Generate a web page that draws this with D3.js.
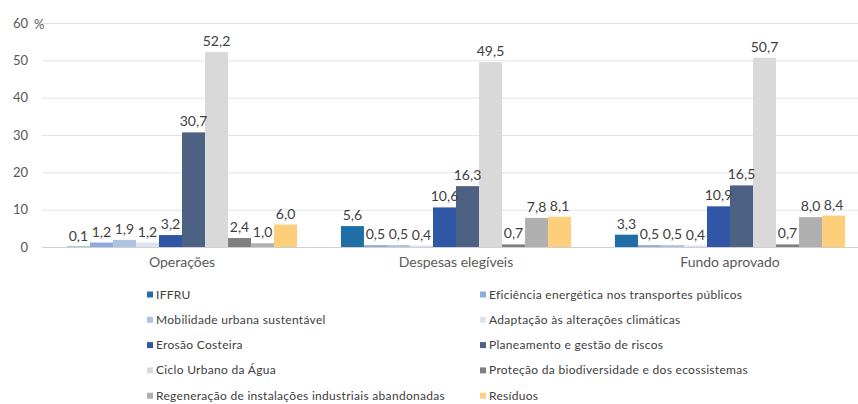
<!DOCTYPE html>
<html><head><meta charset="utf-8">
<script src="https://cdn.jsdelivr.net/npm/d3@7"></script>
<style>
body{margin:0;background:#fff;}
svg{display:block;font-family:"Lato","Liberation Sans",sans-serif;}
</style></head>
<body><svg id="c" width="858" height="404"></svg>
<script>
const categories = ["Operações", "Despesas elegíveis", "Fundo aprovado"];
const seriesNames = [
  "IFFRU",
  "Eficiência energética nos transportes públicos",
  "Mobilidade urbana sustentável",
  "Adaptação às alterações climáticas",
  "Erosão Costeira",
  "Planeamento e gestão de riscos",
  "Ciclo Urbano da Água",
  "Proteção da biodiversidade e dos ecossistemas",
  "Regeneração de instalações industriais abandonadas",
  "Resíduos"
];
const operacoes = [0.1, 1.2, 1.9, 1.2, 3.2, 30.7, 52.2, 2.4, 1.0, 6.0];
const despesas  = [5.6, 0.5, 0.5, 0.4, 10.6, 16.3, 49.5, 0.7, 7.8, 8.1];
const fundo     = [3.3, 0.5, 0.5, 0.4, 10.9, 16.5, 50.7, 0.7, 8.0, 8.4];
const yTicks = [0, 10, 20, 30, 40, 50, 60];
const colors = ["#1f6fa6", "#8faadc", "#adc3e0", "#dde4f1", "#3057a6", "#4d6283", "#d9d9d9", "#7f7f7f", "#b0b0b0", "#fdcf7a"];

const values = [operacoes, despesas, fundo];
const svg = d3.select("#c");

const y = d3.scaleLinear().domain([0, 60]).range([247, 23]);
const x0 = d3.scaleBand().domain(categories).range([45, 867]).paddingInner(0.16).paddingOuter(0.08);
const x1 = d3.scaleBand().domain(d3.range(seriesNames.length)).range([0, x0.bandwidth()]);
const color = d3.scaleOrdinal().domain(d3.range(seriesNames.length)).range(colors);

// gridlines
svg.append("g").selectAll("line").data(yTicks).join("line")
  .attr("x1", 42).attr("x2", 858)
  .attr("y1", d => y(d) + 0.5).attr("y2", d => y(d) + 0.5)
  .attr("stroke", d => d === 0 ? "#d0d0d0" : "#e3e3e3").attr("stroke-width", 1);

// y axis labels
const yAxis = d3.axisLeft(y).tickValues(yTicks).tickSize(0).tickPadding(0);
const gy = svg.append("g").attr("transform", "translate(28,0)").call(yAxis);
gy.select(".domain").remove();
gy.selectAll("text").attr("font-size", 13).attr("fill", "#595959").attr("font-family", "Lato, sans-serif");
svg.append("text").attr("x", 34).attr("y", y(60) + 6).attr("font-size", 13).attr("fill", "#595959").text("%");

// bars
const groups = svg.append("g").selectAll("g").data(categories).join("g")
  .attr("transform", d => `translate(${x0(d)},0)`);
groups.selectAll("rect").data((c, ci) => values[ci].map((v, i) => ({v, i})))
  .join("rect")
  .attr("x", d => x1(d.i)).attr("width", x1.bandwidth())
  .attr("y", d => y(d.v)).attr("height", d => y(0) - y(d.v))
  .attr("fill", d => color(d.i));
groups.selectAll("text").data((c, ci) => values[ci].map((v, i) => ({v, i})))
  .join("text")
  .attr("x", d => x1(d.i) + x1.bandwidth() / 2)
  .attr("y", d => y(d.v) - 6)
  .attr("text-anchor", "middle").attr("font-size", 14).attr("fill", "#404040")
  .text(d => d3.format(".1f")(d.v).replace(".", ","));

// x axis labels
const xAxis = d3.axisBottom(x0).tickSize(0).tickPadding(0);
const gx = svg.append("g").attr("transform", `translate(0,${y(0) + 15})`).call(xAxis);
gx.select(".domain").remove();
gx.selectAll("text").attr("font-size", 14).attr("fill", "#595959").attr("font-family", "Lato, sans-serif").attr("dy", "0.35em");

// legend
const leg = svg.append("g").selectAll("g").data(seriesNames).join("g")
  .attr("transform", (d, i) => `translate(${i % 2 === 0 ? 147 : 480},${294.5 + Math.floor(i / 2) * 25.3})`);
leg.append("rect").attr("x", 0).attr("y", -3).attr("width", 6).attr("height", 6).attr("fill", (d, i) => color(i));
leg.append("text").attr("x", 9).attr("y", 4).attr("font-size", 12).attr("fill", "#404040")
  .attr("letter-spacing", 0.3).text(d => d);
</script></body></html>
